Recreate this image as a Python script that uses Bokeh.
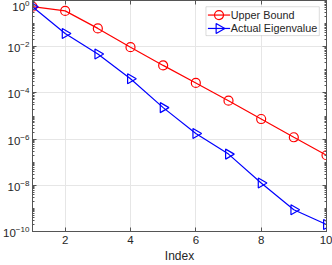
import math
from bokeh.plotting import figure
from bokeh.models import Range1d, FixedTicker, LogAxis, LinearAxis, BoxAnnotation, Label
from bokeh.embed import file_html
from bokeh.resources import INLINE

index = [1, 2, 3, 4, 5, 6, 7, 8, 9, 10]
upper_bound = [0.54, 0.355, 0.062, 0.0095, 0.00155, 2.7e-4, 4.6e-5, 7.4e-6, 1.2e-6, 2.0e-7]
actual_eig = [0.54, 0.037, 0.0048, 4.1e-4, 2.3e-5, 1.74e-6, 2.24e-7, 1.26e-8, 8.7e-10, 2.0e-10]
series_names = ["Upper Bound", "Actual Eigenvalue"]
x_ticks = [2, 4, 6, 8, 10]
y_ticks = [1e-10, 1e-8, 1e-6, 1e-4, 1e-2, 1e0]

FONT = "Liberation Sans"
AX = "#555555"
TXT = "#262626"

p = figure(width=332, height=265, y_axis_type="log",
           x_range=Range1d(1, 10), y_range=Range1d(1e-10, 1),
           output_backend="svg", toolbar_location=None,
           min_border_top=0, min_border_right=6, min_border_left=2, min_border_bottom=0)

minor = [m * 10.0 ** e for e in range(-10, 0) for m in range(1, 10)]
p.yaxis.ticker = FixedTicker(ticks=y_ticks, minor_ticks=minor)
p.xaxis.ticker = FixedTicker(ticks=x_ticks)
p.xaxis.axis_label = "Index"

for ax in [p.xaxis[0], p.yaxis[0]]:
    ax.axis_line_color = AX
    ax.major_tick_line_color = AX
    ax.minor_tick_line_color = AX
    ax.major_tick_in = 4
    ax.major_tick_out = 0
    ax.minor_tick_in = 2
    ax.minor_tick_out = 0
    ax.major_label_text_font = FONT
    ax.major_label_text_font_size = "11.5px"
    ax.major_label_text_color = TXT
    ax.axis_label_text_font = FONT
    ax.axis_label_text_font_size = "12px"
    ax.axis_label_text_font_style = "normal"
    ax.axis_label_text_color = TXT
p.xaxis[0].minor_tick_line_color = None
p.xaxis[0].major_label_standoff = 4
p.xaxis[0].axis_label_standoff = 2
p.yaxis[0].major_label_standoff = 3

top = LinearAxis(ticker=FixedTicker(ticks=x_ticks), major_label_text_font_size="1px",
                 major_label_text_alpha=0,
                 axis_line_color=AX, major_tick_line_color=AX, major_tick_in=4, major_tick_out=0,
                 minor_tick_line_color=None, major_label_standoff=0)
right = LogAxis(ticker=FixedTicker(ticks=y_ticks, minor_ticks=minor), major_label_text_font_size="1px",
                major_label_text_alpha=0,
                axis_line_color=AX, major_tick_line_color=AX, minor_tick_line_color=AX,
                major_tick_in=4, major_tick_out=0, minor_tick_in=2, minor_tick_out=0,
                major_label_standoff=0)
p.add_layout(top, "above")
p.add_layout(right, "right")

p.xgrid.ticker = FixedTicker(ticks=x_ticks)
p.ygrid.ticker = FixedTicker(ticks=y_ticks)
p.grid.grid_line_color = "#e6e6e6"
p.outline_line_color = AX

p.line(index, upper_bound, line_color="red", line_width=1.2)
p.scatter(index, upper_bound, marker="circle", size=9, fill_color=None, line_color="red", line_width=1.2)
p.line(index, actual_eig, line_color="blue", line_width=1.2)
p.scatter(index, actual_eig, marker="triangle", angle=-math.pi / 2, size=10, fill_color=None,
          line_color="blue", line_width=1.2)

# manual legend, positioned in data space (log10 for y)
leg_left, leg_right, leg_top, leg_bottom = 6.31, 9.78, -0.27, -1.52
rows_log = [-0.63, -1.21]
glyph_x0, glyph_x1, glyph_xc = 6.37, 7.05, 6.71
colors = ["red", "blue"]
markers = ["circle", "triangle"]
angles = [0.0, -math.pi / 2]
sizes = [9, 10]

p.add_layout(BoxAnnotation(left=leg_left, right=leg_right, top=10 ** leg_top, bottom=10 ** leg_bottom,
                           fill_color="white", fill_alpha=1.0, line_color="#8c8c8c", line_width=1,
                           level="annotation"))
for name, yl, col, mk, ang, sz in zip(series_names, rows_log, colors, markers, angles, sizes):
    yv = 10 ** yl
    p.line([glyph_x0, glyph_x1], [yv, yv], line_color=col, line_width=1.2, level="overlay")
    p.scatter([glyph_xc], [yv], marker=mk, angle=ang, size=sz, fill_color=None,
              line_color=col, line_width=1.2, level="overlay")
    p.add_layout(Label(x=glyph_x1 + 0.02, y=yv, text=name, text_font=FONT, text_font_size="10.8px",
                       text_color=TXT, text_baseline="middle", level="overlay"))

open("out.html", "w").write(file_html(p, INLINE))
